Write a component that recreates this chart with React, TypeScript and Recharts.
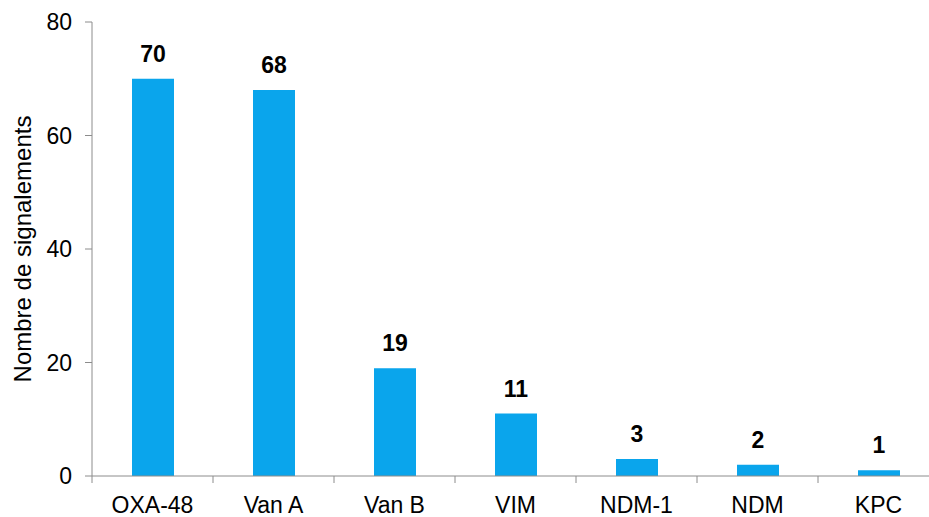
import { BarChart, Bar, XAxis, YAxis, LabelList, Label } from "recharts";

const categories = ["OXA-48", "Van A", "Van B", "VIM", "NDM-1", "NDM", "KPC"];
const counts = [70, 68, 19, 11, 3, 2, 1];
const yTicks = [0, 20, 40, 60, 80];

const data = categories.map((name, i) => ({ name, count: counts[i] }));

const FONT = '"Liberation Sans", Arial, sans-serif';
const BAND = 121;

// category ticks sit between the bars, not under them
const XTick = (props: any) => {
  const { x, y, payload } = props;
  const left = x - BAND / 2;
  return (
    <g>
      <line x1={left} y1={y - 8} x2={left} y2={y - 1} stroke="#8c8c8c" strokeWidth={1} />
      <text x={x} y={y + 29} textAnchor="middle" fill="#000" fontSize={23} fontFamily={FONT}>
        {payload.value}
      </text>
    </g>
  );
};

export default function App() {
  return (
    <div style={{ position: "fixed", left: 0, top: 0, width: 929, height: 517, overflow: "hidden", background: "#fff" }}>
      <BarChart
        width={939}
        height={517}
        data={data}
        margin={{ top: 22, right: 0, left: 0, bottom: 0 }}
      >
        <XAxis
          dataKey="name"
          height={41}
          axisLine={{ stroke: "#8c8c8c" }}
          tickLine={false}
          tick={<XTick />}
          interval={0}
        />
        <YAxis
          width={92}
          domain={[0, 80]}
          ticks={yTicks}
          axisLine={{ stroke: "#8c8c8c" }}
          tickLine={{ stroke: "#8c8c8c" }}
          tickSize={7}
          tickMargin={13}
          tick={{ fill: "#000", fontSize: 23, fontFamily: FONT }}
        >
          <Label
            content={(p: any) => {
              const vb = p.viewBox;
              const cx = 31;
              const cy = vb.y + vb.height / 2;
              return (
                <text
                  x={cx}
                  y={cy}
                  transform={`rotate(-90 ${cx} ${cy})`}
                  textAnchor="middle"
                  fill="#000"
                  fontSize={24}
                  fontFamily={FONT}
                >
                  Nombre de signalements
                </text>
              );
            }}
          />
        </YAxis>
        <Bar dataKey="count" fill="#0aa5ec" barSize={42} isAnimationActive={false}>
          <LabelList
            dataKey="count"
            position="top"
            offset={17}
            fill="#000"
            fontSize={23}
            fontWeight="bold"
            fontFamily={FONT}
          />
        </Bar>
      </BarChart>
    </div>
  );
}
